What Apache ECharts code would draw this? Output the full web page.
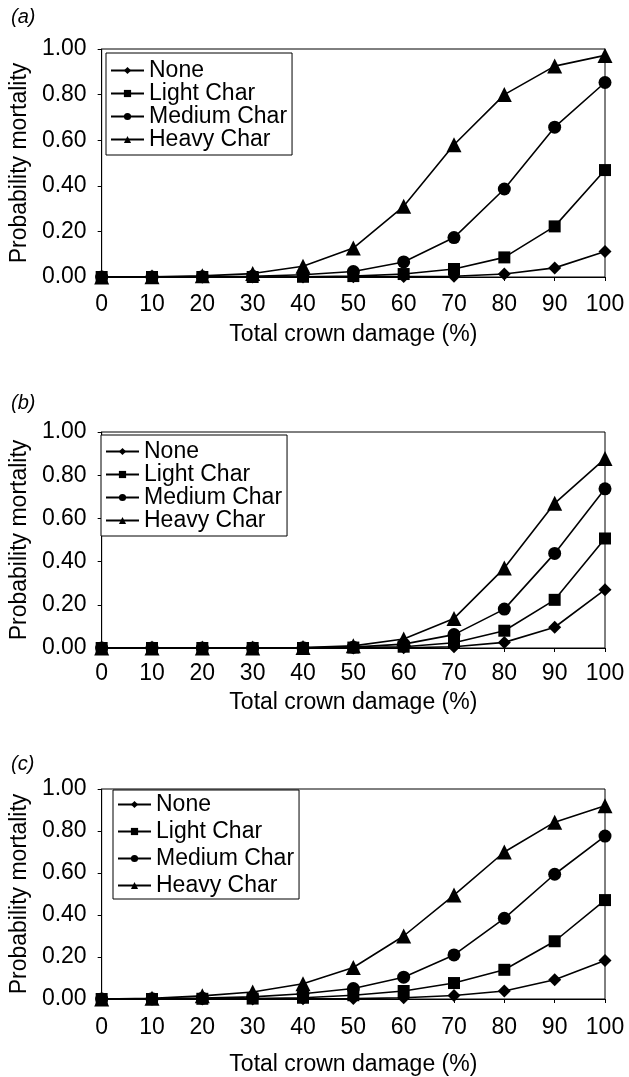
<!DOCTYPE html>
<html><head><meta charset="utf-8">
<script src="https://cdn.jsdelivr.net/npm/echarts@6/dist/echarts.min.js"></script>
<style>html,body{margin:0;padding:0;background:#fff}#c{width:629px;height:1077px}</style>
</head><body><div id="c"></div>
<script>
const xVals = [0,10,20,30,40,50,60,70,80,90,100];
const seriesNames = ['None','Light Char','Medium Char','Heavy Char'];
const panelLabels = ['(a)','(b)','(c)'];
const xTitle = 'Total crown damage (%)';
const yTitle = 'Probability mortality';

const a_none   = [0,0,0,0,0,0.001,0.002,0.003,0.013,0.040,0.112];
const a_light  = [0,0,0,0,0.001,0.004,0.013,0.035,0.086,0.222,0.469];
const a_medium = [0,0,0.001,0.003,0.010,0.024,0.066,0.173,0.386,0.657,0.853];
const a_heavy  = [0,0.001,0.005,0.015,0.047,0.127,0.310,0.580,0.800,0.925,0.972];

const b_none   = [0,0,0,0,0,0,0.001,0.006,0.026,0.096,0.270];
const b_light  = [0,0,0,0,0,0.002,0.006,0.024,0.080,0.223,0.507];
const b_medium = [0,0,0,0,0.001,0.004,0.018,0.062,0.180,0.438,0.737];
const b_heavy  = [0,0,0,0,0.002,0.010,0.042,0.137,0.370,0.670,0.877];

const c_none   = [0,0,0,0,0.001,0.002,0.006,0.017,0.038,0.092,0.183];
const c_light  = [0,0,0.001,0.002,0.006,0.018,0.038,0.076,0.139,0.275,0.471];
const c_medium = [0,0.001,0.004,0.010,0.025,0.050,0.104,0.210,0.384,0.594,0.776];
const c_heavy  = [0,0.003,0.015,0.033,0.073,0.150,0.300,0.495,0.700,0.842,0.920];

const panels = [
  {data:[a_none,a_light,a_medium,a_heavy], top:49, height:228, labelY:13, legendLeft:106, legendTop:53, legLH:22.5, legPad:[6,5,4,4], xNameGap:46, xMargin:16},
  {data:[b_none,b_light,b_medium,b_heavy], top:432, height:216, labelY:399, legendLeft:101, legendTop:435, legLH:22, legPad:[5,5,4,4], xNameGap:43, xMargin:14},
  {data:[c_none,c_light,c_medium,c_heavy], top:789, height:211, labelY:760, legendLeft:113, legendTop:790, legLH:27, legPad:[1,5,0,4], xNameGap:54, xMargin:17}
];
const symbols = ['diamond','rect','circle','triangle'];
const symbolSizes = [13,12,13,15];
const FONT = '"Liberation Sans", Arial, sans-serif';
const FS = 23;

const option = {
  animation:false,
  backgroundColor:'#fff',
  textStyle:{fontFamily:FONT,color:'#000'},
  grid:[], xAxis:[], yAxis:[], series:[], legend:[], title:[]
};

panels.forEach((p,i)=>{
  option.grid.push({left:97, width:508, top:p.top, height:p.height, show:true, borderColor:'#000', borderWidth:1, backgroundColor:'transparent'});
  option.xAxis.push({
    type:'value', gridIndex:i, min:0, max:100, interval:10,
    axisLine:{show:true,lineStyle:{color:'#000',width:1}},
    axisTick:{show:true,length:4,inside:false,lineStyle:{color:'#000'}},
    splitLine:{show:false},
    axisLabel:{color:'#000',fontSize:FS,fontFamily:FONT,margin:p.xMargin},
    name:xTitle, nameLocation:'middle', nameGap:p.xNameGap,
    nameTextStyle:{color:'#000',fontSize:FS,fontFamily:FONT}
  });
  option.yAxis.push({
    type:'value', gridIndex:i, min:0, max:1, interval:0.2,
    axisLine:{show:true,lineStyle:{color:'#000',width:1}},
    axisTick:{show:true,length:4,inside:false,lineStyle:{color:'#000'}},
    splitLine:{show:false},
    axisLabel:{color:'#000',fontSize:FS,fontFamily:FONT,margin:15,formatter:v=>v.toFixed(2)},
    name:yTitle, nameLocation:'middle', nameGap:66, nameRotate:90,
    nameTextStyle:{color:'#000',fontSize:FS,fontFamily:FONT}
  });
  const legendData=[];
  p.data.forEach((arr,k)=>{
    const name = seriesNames[k];
    legendData.push(name);
    option.series.push({
      type:'line', name:name, xAxisIndex:i, yAxisIndex:i,
      data:xVals.map((x,j)=>[x,arr[j]]),
      symbol:symbols[k], symbolSize:symbolSizes[k], showAllSymbol:true,
      lineStyle:{color:'#000',width:1.6}, itemStyle:{color:'#000'},
      clip:false, z:2+k
    });
  });
  option.legend.push({
    show:true, orient:'vertical', left:p.legendLeft, top:p.legendTop,
    data:legendData.map(n=>({name:n})),
    borderColor:'#000', borderWidth:1, borderRadius:0, padding:p.legPad,
    itemWidth:33, itemHeight:9, itemGap:0,
    textStyle:{color:'#000',fontSize:FS,fontFamily:FONT,lineHeight:p.legLH},
    selectedMode:false,
    backgroundColor:'#fff'
  });
  option.title.push({text:panelLabels[i], left:6, top:p.labelY-11, textStyle:{fontSize:20,fontStyle:'italic',fontWeight:'normal',fontFamily:FONT,color:'#000'}});
});

const chart = echarts.init(document.getElementById('c'),null,{renderer:'canvas'});
chart.setOption(option);
</script></body></html>
